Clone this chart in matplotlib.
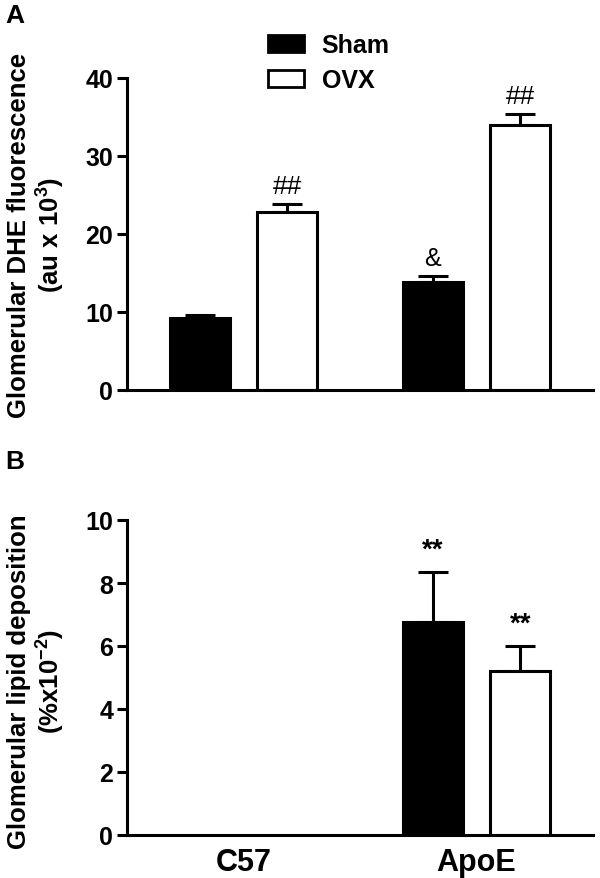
import numpy as np
import matplotlib
matplotlib.use('Agg')
import matplotlib.pyplot as plt
from matplotlib.patches import Patch

plt.rcParams['font.family'] = ['Liberation Sans', 'DejaVu Sans']
plt.rcParams['font.weight'] = 'bold'
plt.rcParams['mathtext.fontset'] = 'custom'
plt.rcParams['mathtext.rm'] = 'Liberation Sans:bold'
plt.rcParams['mathtext.bf'] = 'Liberation Sans:bold'

groups = ['C57', 'ApoE']
series = ['Sham', 'OVX']

dhe_sham = [9.2, 13.8]
dhe_sham_err = [0.4, 0.8]
dhe_ovx = [22.8, 34.0]
dhe_ovx_err = [1.0, 1.4]
dhe_marks_sham = ['', '&']
dhe_marks_ovx = ['##', '##']

lipid_sham = [0.0, 6.75]
lipid_sham_err = [0.0, 1.6]
lipid_ovx = [0.0, 5.2]
lipid_ovx_err = [0.0, 0.8]
lipid_marks_sham = ['', '**']
lipid_marks_ovx = ['', '**']

W, H = 600, 879
fig = plt.figure(figsize=(6, 8.79), dpi=100)

def px_axes(left, top, right, bottom):
    return fig.add_axes([left / W, 1 - bottom / H, (right - left) / W, (bottom - top) / H])

axA = px_axes(127, 79, 593, 391)
axB = px_axes(127, 521, 593, 836)

x = np.arange(len(groups))
off = 0.188
bw = 0.258

# font weight / size / gap for the significance marks
style = {'##': ('normal', 19, 0.02), '&': ('normal', 18, 0.02), '**': ('bold', 20, 0.03)}


def panel(ax, sham, sham_err, ovx, ovx_err, mk_sham, mk_ovx, ymax, step):
    for xs, vals, errs, fc, marks in [(x - off, sham, sham_err, 'black', mk_sham),
                                      (x + off, ovx, ovx_err, 'white', mk_ovx)]:
        for xi, v, e, m in zip(xs, vals, errs, marks):
            if v <= 0:
                continue
            ax.bar(xi, v, width=bw, color=fc, edgecolor='black', linewidth=2.2, zorder=2)
            ax.errorbar(xi, v, yerr=[[0], [e]], color='black', elinewidth=2.2,
                        capsize=11, capthick=2.2, zorder=1)
            if m:
                fw, fs, gap = style[m]
                ax.text(xi, v + e + ymax * gap, m, ha='center', va='bottom',
                        fontsize=fs, fontweight=fw)
    ax.set_xlim(-0.5, 1.5)
    ax.set_ylim(0, ymax)
    ax.set_yticks(np.arange(0, ymax + step / 2, step))
    for s in ['top', 'right']:
        ax.spines[s].set_visible(False)
    for s in ['left', 'bottom']:
        ax.spines[s].set_linewidth(2.2)
    ax.tick_params(axis='y', width=2.2, length=7, labelsize=18, pad=3)
    ax.tick_params(axis='x', length=0)


panel(axA, dhe_sham, dhe_sham_err, dhe_ovx, dhe_ovx_err,
      dhe_marks_sham, dhe_marks_ovx, 40, 10)
axA.set_xticks([])
axA.set_ylabel('Glomerular DHE fluorescence\n(au x 10$^{3}$)',
               fontsize=18.5, fontweight='bold', linespacing=1.1)
axA.yaxis.set_label_coords(-0.13, 0.5)

panel(axB, lipid_sham, lipid_sham_err, lipid_ovx, lipid_ovx_err,
      lipid_marks_sham, lipid_marks_ovx, 10, 2)
axB.set_xticks(x)
axB.set_xticklabels(groups, fontsize=22, fontweight='bold')
axB.tick_params(axis='x', pad=9)
axB.set_ylabel('Glomerular lipid deposition\n(%x10$^{-2}$)',
               fontsize=18.5, fontweight='bold', linespacing=1.1)
axB.yaxis.set_label_coords(-0.13, 0.49)

handles = [Patch(facecolor='black', edgecolor='black', linewidth=2),
           Patch(facecolor='white', edgecolor='black', linewidth=2)]
fig.legend(handles, series, loc='upper left', bbox_to_anchor=(258 / W, 1 - 24 / H),
           frameon=False, fontsize=18, handlelength=1.45, handleheight=0.7,
           handletextpad=0.7, labelspacing=0.45, borderaxespad=0)

fig.text(5 / W, 1 - 4 / H, 'A', fontsize=19, fontweight='bold', va='top', ha='left')
fig.text(5 / W, 1 - 450 / H, 'B', fontsize=19, fontweight='bold', va='top', ha='left')

fig.savefig('out.png', dpi=100)
